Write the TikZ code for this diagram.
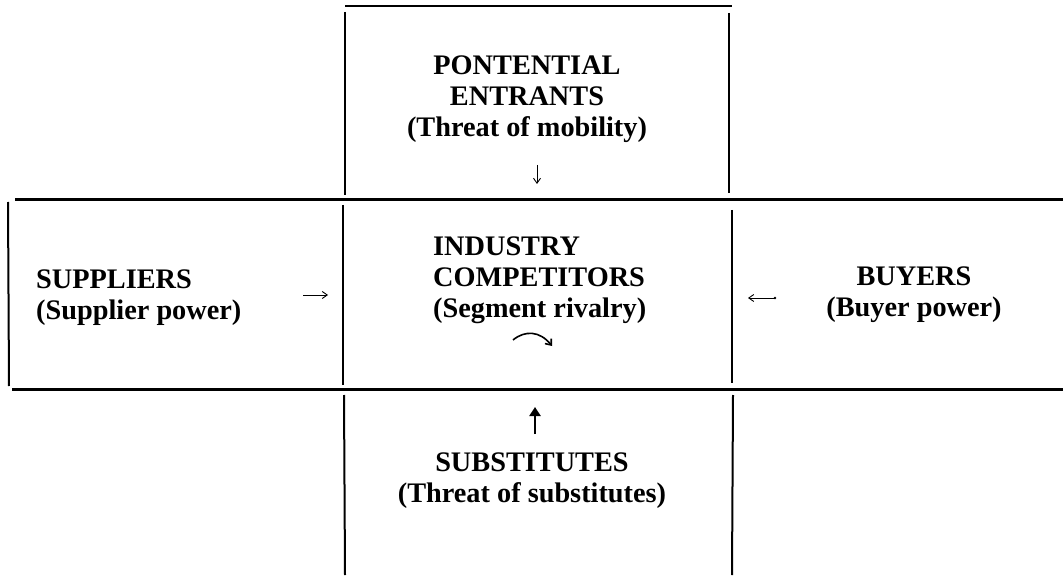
\documentclass[tikz,border=0pt]{standalone}
\usepackage{fontspec}
\setmainfont{Liberation Serif}
\usetikzlibrary{arrows.meta}
\begin{document}
\begin{tikzpicture}[x=1pt,y=-1pt,
  frame/.style={line width=2pt,black},
  band/.style={line width=3pt,black},
  lbl/.style={inner sep=0pt,font=\bfseries\fontsize{28.3}{31}\selectfont},
  thinarr/.style={line width=0.9pt,-{Straight Barb[length=5pt,width=7pt]}},
  boldarr/.style={line width=2.6pt,-{Triangle[length=9pt,width=11pt]}}]
\useasboundingbox (0,0) rectangle (1063,580);
\fill[white] (0,0) rectangle (1063,580);

% top box
\draw[line width=2.5pt] (345,6) -- (732,6);
\draw[frame] (345,12) -- (345,195);
\draw[frame] (729,13) -- (729,193);

% horizontal band
\draw[band] (15,200) -- (1063,200);
\draw[band] (12,389) -- (1063,389);
\draw[frame] (8,202) -- (9,386);
\draw[frame] (343,205) -- (343,385);
\draw[frame] (732,210) -- (732,383);

% bottom box
\draw[frame] (344,395) -- (345,575);
\draw[frame] (733,395) -- (732,575);

% labels
\node[lbl,align=center,anchor=north] (entrants) at (527,56)
  {PONTENTIAL\\ENTRANTS\\(Threat of mobility)};
\node[lbl,align=left,anchor=north west] (industry) at (433,237)
  {INDUSTRY\\COMPETITORS\\(Segment rivalry)};
\node[lbl,align=left,anchor=north west] (suppliers) at (36,270)
  {SUPPLIERS\\(Supplier power)};
\node[lbl,align=center,anchor=north] (buyers) at (914,267)
  {BUYERS\\(Buyer power)};
\node[lbl,align=center,anchor=north] (substitutes) at (532,453)
  {SUBSTITUTES\\(Threat of substitutes)};

% forces acting on the industry
\coordinate (entS) at (537,165);
\coordinate (entE) at (537,184);
\draw[thinarr] (entS) -- (entE);

\coordinate (supS) at (303,295);
\coordinate (supE) at (328,295);
\draw[thinarr] (supS) -- (supE);

\coordinate (buyS) at (775,298);
\coordinate (buyE) at (748,298);
\draw[thinarr] (buyS) -- (buyE);
\fill (buyS) circle (1.3pt);

\coordinate (subS) at (535,434);
\coordinate (subE) at (535,407);
\draw[boldarr] (subS) -- (subE);

\coordinate (rivS) at (513,340);
\coordinate (rivE) at (552,346);
\draw[line width=1.6pt,-{Straight Barb[length=5pt,width=8pt]}] (rivS) .. controls (525,330) and (540,331) .. (rivE);
\end{tikzpicture}
\end{document}
